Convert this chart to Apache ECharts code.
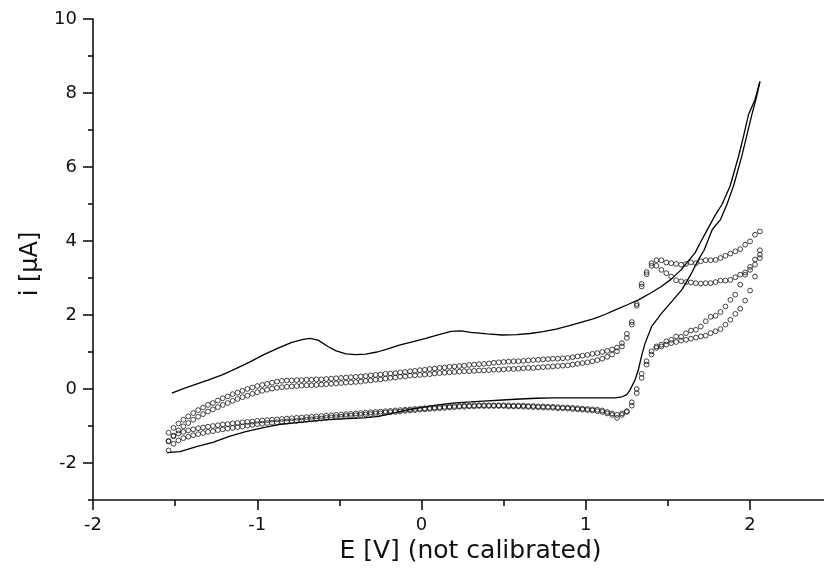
<!DOCTYPE html>
<html>
<head>
<meta charset="utf-8">
<script src="https://cdn.jsdelivr.net/npm/echarts@6/dist/echarts.min.js"></script>
<style>
  html, body { margin: 0; padding: 0; background: #fff; }
  #chart { width: 824px; height: 576px; }
</style>
</head>
<body>
<div id="chart"></div>
<script>
// Axis ticks and labels
const xMajorTicks = [-2, -1, 0, 1, 2];
const xMinorTicks = [-1.5, -0.5, 0.5, 1.5];
const yMajorTicks = [-2, 0, 2, 4, 6, 8, 10];
const yMinorTicks = [-3, -1, 1, 3, 5, 7, 9];

// Measured trace (solid line): forward sweep then reverse sweep, [E, i]
const traceForward = [
  [-1.52,-0.11],[-1.45,0.01],[-1.38,0.12],[-1.30,0.24],[-1.21,0.39],[-1.13,0.55],[-1.05,0.72],
  [-0.96,0.93],[-0.87,1.11],[-0.79,1.26],[-0.72,1.34],[-0.68,1.37],[-0.63,1.32],[-0.57,1.15],
  [-0.52,1.03],[-0.46,0.95],[-0.40,0.93],[-0.34,0.94],[-0.27,1.00],[-0.20,1.09],[-0.13,1.19],
  [-0.05,1.28],[0.02,1.36],[0.10,1.46],[0.18,1.56],[0.24,1.57],[0.30,1.53],[0.40,1.49],
  [0.49,1.46],[0.58,1.47],[0.66,1.50],[0.74,1.55],[0.82,1.62],[0.90,1.71],[0.97,1.80],
  [1.05,1.90],[1.12,2.02],[1.18,2.14],[1.25,2.27],[1.32,2.41],[1.39,2.58],[1.46,2.77],
  [1.52,2.97],[1.58,3.22],[1.63,3.49],[1.665,3.68],[1.70,3.98],[1.75,4.39],[1.785,4.68],
  [1.828,4.98],[1.878,5.48],[1.93,6.29],[1.96,6.83],[1.99,7.41],[2.03,7.82],[2.06,8.31]
];
const traceReverse = [
  [2.06,8.31],[2.04,7.90],[2.01,7.40],[1.98,6.85],[1.95,6.30],[1.90,5.50],[1.86,5.00],
  [1.82,4.58],[1.77,4.31],[1.72,3.75],[1.685,3.49],[1.64,3.10],[1.584,2.68],[1.52,2.35],
  [1.462,2.05],[1.401,1.69],[1.361,1.24],[1.34,0.90],[1.32,0.52],[1.30,0.25],[1.28,0.07],
  [1.265,-0.06],[1.249,-0.15],[1.22,-0.21],[1.178,-0.24],[1.10,-0.24],[1.00,-0.24],
  [0.90,-0.24],[0.80,-0.24],[0.70,-0.25],[0.60,-0.27],[0.52,-0.29],[0.40,-0.32],
  [0.30,-0.35],[0.19,-0.38],[0.10,-0.43],[0.00,-0.50],[-0.10,-0.58],[-0.18,-0.66],
  [-0.26,-0.74],[-0.35,-0.78],[-0.45,-0.80],[-0.57,-0.83],[-0.70,-0.88],[-0.87,-0.96],
  [-0.97,-1.05],[-1.07,-1.15],[-1.17,-1.28],[-1.27,-1.44],[-1.37,-1.56],[-1.47,-1.69],
  [-1.55,-1.72]
];

// Simulated points: potential grid (V) shared by all sweeps
const potential = [
  -1.54,-1.51,-1.48,-1.45,-1.42,-1.39,-1.36,-1.33,-1.30,-1.27,
  -1.24,-1.21,-1.18,-1.15,-1.12,-1.09,-1.06,-1.03,-1.00,-0.97,
  -0.94,-0.91,-0.88,-0.85,-0.82,-0.79,-0.76,-0.73,-0.70,-0.67,
  -0.64,-0.61,-0.58,-0.55,-0.52,-0.49,-0.46,-0.43,-0.40,-0.37,
  -0.34,-0.31,-0.28,-0.25,-0.22,-0.19,-0.16,-0.13,-0.10,-0.07,
  -0.04,-0.01,0.02,0.05,0.08,0.11,0.14,0.17,0.20,0.23,
  0.26,0.29,0.32,0.35,0.38,0.41,0.44,0.47,0.50,0.53,
  0.56,0.59,0.62,0.65,0.68,0.71,0.74,0.77,0.80,0.83,
  0.86,0.89,0.92,0.95,0.98,1.01,1.04,1.07,1.10,1.13,
  1.16,1.19,1.22,1.25,1.28,1.31,1.34,1.37,1.40,1.43,
  1.46,1.49,1.52,1.55,1.58,1.61,1.64,1.67,1.70,1.73,
  1.76,1.79,1.82,1.85,1.88,1.91,1.94,1.97,2.00,2.03,
  2.06
];
// Currents (µA) on the grid above
const forward1 = [
  -1.18,-1.05,-0.93,-0.83,-0.74,-0.65,-0.57,-0.50,-0.43,-0.38,
  -0.31,-0.25,-0.20,-0.14,-0.10,-0.05,0.00,0.04,0.08,0.11,
  0.14,0.17,0.20,0.22,0.23,0.23,0.24,0.24,0.25,0.25,
  0.26,0.26,0.27,0.28,0.29,0.30,0.31,0.32,0.33,0.34,
  0.35,0.37,0.38,0.39,0.41,0.42,0.43,0.45,0.46,0.48,
  0.49,0.51,0.52,0.54,0.55,0.57,0.58,0.60,0.61,0.62,
  0.63,0.65,0.66,0.67,0.68,0.69,0.71,0.72,0.73,0.74,
  0.75,0.75,0.76,0.77,0.78,0.79,0.80,0.81,0.82,0.82,
  0.83,0.84,0.86,0.88,0.90,0.92,0.95,0.97,1.00,1.03,
  1.07,1.12,1.24,1.49,1.81,2.30,2.84,3.16,3.40,3.48,
  3.48,3.42,3.40,3.38,3.36,3.38,3.42,3.40,3.45,3.48,
  3.48,3.49,3.54,3.60,3.66,3.72,3.78,3.90,3.99,4.17,
  4.26
];
const forward2 = [
  -1.40,-1.26,-1.12,-1.01,-0.92,-0.83,-0.75,-0.68,-0.61,-0.55,
  -0.49,-0.43,-0.38,-0.32,-0.27,-0.22,-0.18,-0.13,-0.09,-0.05,
  -0.02,0.01,0.03,0.05,0.06,0.07,0.08,0.09,0.10,0.10,
  0.11,0.12,0.13,0.14,0.15,0.16,0.17,0.18,0.19,0.20,
  0.22,0.23,0.25,0.26,0.28,0.30,0.31,0.33,0.34,0.36,
  0.37,0.38,0.39,0.40,0.42,0.43,0.44,0.45,0.46,0.47,
  0.48,0.48,0.49,0.50,0.50,0.51,0.52,0.52,0.53,0.54,
  0.54,0.55,0.56,0.57,0.57,0.58,0.59,0.60,0.61,0.62,
  0.63,0.64,0.66,0.68,0.70,0.72,0.75,0.78,0.82,0.87,
  0.93,1.02,1.15,1.38,1.74,2.25,2.77,3.10,3.33,3.33,
  3.22,3.13,3.04,2.94,2.91,2.89,2.88,2.86,2.85,2.86,
  2.86,2.89,2.93,2.93,2.95,3.02,3.09,3.15,3.22,3.36,
  3.63
];
const reverse1 = [
  -1.66,-1.48,-1.39,-1.33,-1.29,-1.25,-1.22,-1.19,-1.16,-1.14,
  -1.11,-1.09,-1.07,-1.05,-1.03,-1.01,-0.99,-0.97,-0.95,-0.94,
  -0.92,-0.91,-0.90,-0.89,-0.88,-0.87,-0.86,-0.85,-0.83,-0.82,
  -0.81,-0.80,-0.78,-0.77,-0.76,-0.75,-0.73,-0.72,-0.71,-0.70,
  -0.69,-0.68,-0.67,-0.66,-0.64,-0.63,-0.62,-0.61,-0.59,-0.58,
  -0.57,-0.56,-0.55,-0.54,-0.53,-0.52,-0.51,-0.50,-0.49,-0.48,
  -0.48,-0.47,-0.47,-0.46,-0.46,-0.46,-0.46,-0.46,-0.46,-0.47,
  -0.47,-0.47,-0.48,-0.48,-0.49,-0.49,-0.50,-0.50,-0.51,-0.52,
  -0.52,-0.53,-0.54,-0.55,-0.56,-0.57,-0.58,-0.60,-0.62,-0.66,
  -0.70,-0.78,-0.70,-0.60,-0.36,0.00,0.41,0.75,1.02,1.11,
  1.15,1.20,1.24,1.27,1.31,1.33,1.36,1.39,1.42,1.44,
  1.51,1.56,1.62,1.74,1.87,2.03,2.17,2.39,2.66,3.04,
  3.54
];
const reverse2 = [
  -1.42,-1.28,-1.20,-1.16,-1.12,-1.09,-1.06,-1.04,-1.02,-1.00,
  -0.98,-0.96,-0.95,-0.93,-0.92,-0.90,-0.89,-0.88,-0.86,-0.85,
  -0.84,-0.83,-0.82,-0.81,-0.80,-0.79,-0.78,-0.77,-0.76,-0.75,
  -0.74,-0.73,-0.72,-0.71,-0.70,-0.69,-0.68,-0.67,-0.66,-0.65,
  -0.64,-0.63,-0.62,-0.61,-0.60,-0.59,-0.58,-0.57,-0.56,-0.55,
  -0.54,-0.53,-0.52,-0.51,-0.50,-0.49,-0.48,-0.47,-0.46,-0.46,
  -0.45,-0.45,-0.44,-0.44,-0.44,-0.44,-0.44,-0.44,-0.44,-0.44,
  -0.45,-0.45,-0.45,-0.46,-0.46,-0.47,-0.47,-0.48,-0.48,-0.49,
  -0.50,-0.50,-0.51,-0.52,-0.53,-0.54,-0.55,-0.56,-0.58,-0.62,
  -0.66,-0.70,-0.66,-0.62,-0.45,-0.11,0.30,0.66,0.93,1.15,
  1.20,1.29,1.33,1.42,1.41,1.51,1.58,1.60,1.69,1.83,
  1.95,1.98,2.08,2.23,2.41,2.55,2.82,3.09,3.30,3.50,
  3.75
];

const pairs = (ys) => potential.map((e, k) => [e, ys[k]]);

const chart = echarts.init(document.getElementById('chart'), null, { renderer: 'canvas' });

const FONT = '"DejaVu Sans", Verdana, sans-serif';
const INK = '#111';
// the plotted E range runs a little past the last labelled tick, off the right edge
const X_MIN = -2, X_MAX = 2.45;

const circleStyle = {
  type: 'scatter',
  symbol: 'circle',
  symbolSize: 4.8,
  itemStyle: { color: 'rgba(255,255,255,0)', borderColor: '#161616', borderWidth: 1 },
  silent: true,
  z: 3
};

chart.setOption({
  animation: false,
  backgroundColor: '#fff',
  grid: { left: 93, right: 0, top: 19, bottom: 76, containLabel: false },
  xAxis: [
    {
      type: 'value', min: X_MIN, max: X_MAX, position: 'bottom',
      name: 'E [V] (not calibrated)', nameLocation: 'middle', nameGap: 37,
      nameTextStyle: { fontFamily: FONT, fontSize: 25, color: INK, padding: [0, 0, 0, 24] },
      axisLine: { show: true, onZero: false, lineStyle: { color: INK, width: 1.6 } },
      axisTick: { show: true, inside: false, length: 10, customValues: xMajorTicks, lineStyle: { color: INK, width: 1.6 } },
      axisLabel: { show: true, customValues: xMajorTicks, margin: 16, fontFamily: FONT, fontSize: 18, color: INK },
      splitLine: { show: false }
    },
    {
      type: 'value', min: X_MIN, max: X_MAX, position: 'bottom',
      axisLine: { show: false, onZero: false },
      axisTick: { show: true, inside: false, length: 6, customValues: xMinorTicks, lineStyle: { color: INK, width: 1.6 } },
      axisLabel: { show: false },
      splitLine: { show: false }
    }
  ],
  yAxis: [
    {
      type: 'value', min: -3, max: 10, position: 'left',
      name: 'i [µA]', nameLocation: 'middle', nameGap: 48, nameRotate: 90,
      nameTextStyle: { fontFamily: FONT, fontSize: 24, color: INK, padding: [0, 9, 0, 0] },
      axisLine: { show: true, onZero: false, lineStyle: { color: INK, width: 1.6 } },
      axisTick: { show: true, inside: false, length: 10, customValues: yMajorTicks, lineStyle: { color: INK, width: 1.6 } },
      axisLabel: { show: true, customValues: yMajorTicks, margin: 16, fontFamily: FONT, fontSize: 18, color: INK },
      splitLine: { show: false }
    },
    {
      type: 'value', min: -3, max: 10, position: 'left',
      axisLine: { show: false, onZero: false },
      axisTick: { show: true, inside: false, length: 5, customValues: yMinorTicks, lineStyle: { color: INK, width: 1.6 } },
      axisLabel: { show: false },
      splitLine: { show: false }
    }
  ],
  series: [
    {
      type: 'line', data: traceForward, showSymbol: false, symbol: 'none',
      lineStyle: { color: '#000', width: 1.3 }, silent: true, z: 2
    },
    {
      type: 'line', data: traceReverse, showSymbol: false, symbol: 'none',
      lineStyle: { color: '#000', width: 1.3 }, silent: true, z: 2
    },
    Object.assign({ data: pairs(forward1) }, circleStyle),
    Object.assign({ data: pairs(forward2) }, circleStyle),
    Object.assign({ data: pairs(reverse1) }, circleStyle),
    Object.assign({ data: pairs(reverse2) }, circleStyle)
  ]
});
</script>
</body>
</html>
